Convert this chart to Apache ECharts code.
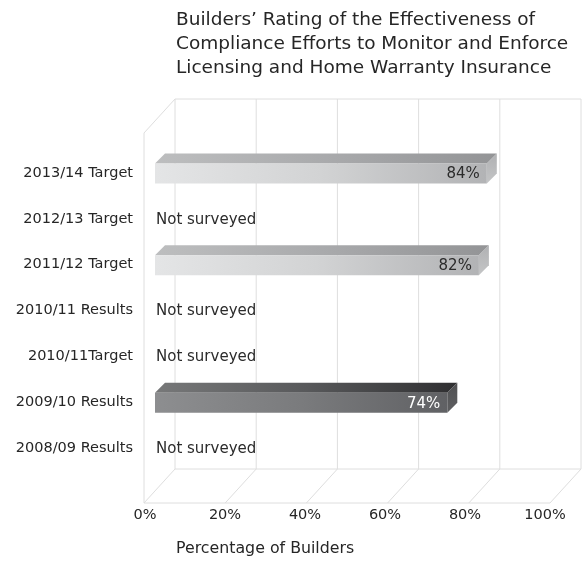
<!DOCTYPE html>
<html>
<head>
<meta charset="utf-8">
<script src="https://cdn.jsdelivr.net/npm/echarts@6/dist/echarts.min.js"></script>
<style>
  html, body { margin: 0; padding: 0; background: #fff; }
  #chart { width: 584px; height: 564px; }
</style>
</head>
<body>
<div id="chart"></div>
<script>
// Survey categories, top to bottom
const categories = [
  '2013/14 Target',
  '2012/13 Target',
  '2011/12 Target',
  '2010/11 Results',
  '2010/11Target',
  '2009/10 Results',
  '2008/09 Results'
];
// Percentage of builders rating the compliance effort as effective (null = not surveyed)
const ratings = [84, null, 82, null, null, 74, null];
const notSurveyedText = 'Not surveyed';

// Percentage axis ticks
const xTicks = [0, 20, 40, 60, 80, 100];
const tickLabels = ['0%', '20%', '40%', '60%', '80%', '100%'];

const titleText = 'Builders\u2019 Rating of the Effectiveness of\nCompliance Efforts to Monitor and Enforce\nLicensing and Home Warranty Insurance';
const axisTitle = 'Percentage of Builders';

const FONT = 'DejaVu Sans';
const GRID_LINE = { stroke: '#dedede', lineWidth: 1 };
// oblique depth of the floor / back wall
const DX = 31, DY = -34;
// oblique depth of each bar
const BDX = 10, BDY = -10, BAR_H = 20;

function line(a, b) {
  return { type: 'line', shape: { x1: a[0], y1: a[1], x2: b[0], y2: b[1] }, style: GRID_LINE, silent: true };
}
function lin(stops, horizontal) {
  return {
    type: 'linear', x: 0, y: 0, x2: horizontal ? 1 : 0, y2: horizontal ? 0 : 1,
    colorStops: stops.map((c, k) => ({ offset: k / (stops.length - 1), color: c }))
  };
}

// floor, left wall and back wall with their vertical grid lines
function renderFrame(params, api) {
  const v = api.value(0);
  const f = api.coord([v, 0]);
  const t = api.coord([v, 1]);
  const back = [f[0] + DX, f[1] + DY];
  const backTop = [t[0] + DX, t[1] + DY];
  const children = [line(f, back), line(back, backTop)];
  if (params.dataIndex === 0) {
    const f0 = api.coord([xTicks[0], 0]);
    const f1 = api.coord([xTicks[xTicks.length - 1], 0]);
    const t0 = api.coord([xTicks[0], 1]);
    const t1 = api.coord([xTicks[xTicks.length - 1], 1]);
    children.push(line(f0, f1));
    children.push(line([f0[0] + DX, f0[1] + DY], [f1[0] + DX, f1[1] + DY]));
    children.push(line(f0, t0));
    children.push(line(t0, [t0[0] + DX, t0[1] + DY]));
    children.push(line([t0[0] + DX, t0[1] + DY], [t1[0] + DX, t1[1] + DY]));
  }
  return { type: 'group', children: children };
}

// pseudo-3D bars, or a note where the year was not surveyed
function renderBar(params, api) {
  const i = params.dataIndex;
  const v = ratings[i];
  const s = api.coord([0, i]);
  if (v == null) {
    return {
      type: 'text',
      style: { x: s[0] + 1, y: s[1] + 1, text: notSurveyedText, fill: '#2b2b2b',
        font: '15px "' + FONT + '"', align: 'left', verticalAlign: 'middle' }
    };
  }
  const e = api.coord([v, i]);
  const dark = categories[i].indexOf('Results') >= 0;
  const x0 = s[0], x1 = e[0];
  const y0 = s[1] - BAR_H / 2 + 0.5, y1 = y0 + BAR_H;
  const front = dark ? lin(['#8d8e90', '#7a7b7d', '#606164'], true)
                     : lin(['#e4e5e6', '#d2d3d4', '#b2b3b5'], true);
  const top = dark ? lin(['#777879', '#58595b', '#2f2f31'], true)
                   : lin(['#bdbebf', '#a9aaac', '#939496'], true);
  const side = dark ? lin(['#505052', '#5f6062'], false) : lin(['#b0b1b3', '#c4c5c6'], false);
  return {
    type: 'group',
    children: [
      { type: 'polygon', shape: { points: [[x0, y0], [x0 + BDX, y0 + BDY], [x1 + BDX, y0 + BDY], [x1, y0]] }, style: { fill: top } },
      { type: 'polygon', shape: { points: [[x1, y0], [x1 + BDX, y0 + BDY], [x1 + BDX, y1 + BDY], [x1, y1]] }, style: { fill: side } },
      { type: 'rect', shape: { x: x0, y: y0, width: x1 - x0, height: BAR_H }, style: { fill: front } },
      { type: 'text', style: { x: x1 - 7, y: (y0 + y1) / 2 + 1, text: v + '%',
          fill: dark ? '#ffffff' : '#2b2b2b', font: '15px "' + FONT + '"', align: 'right', verticalAlign: 'middle' } }
    ]
  };
}

const chart = echarts.init(document.getElementById('chart'), null, { renderer: 'canvas' });
chart.setOption({
  animation: false,
  backgroundColor: '#ffffff',
  title: [
    { text: titleText, left: 176, top: 8, padding: 0,
      textStyle: { fontFamily: FONT, fontSize: 18.5, fontWeight: 'normal', color: '#262626', lineHeight: 24 } },
    { text: axisTitle, left: 176, top: 539, padding: 0,
      textStyle: { fontFamily: FONT, fontSize: 15.8, fontWeight: 'normal', color: '#262626', lineHeight: 20 } }
  ],
  grid: [
    { left: 144, right: 34, top: 133, bottom: 61 },   // floor / walls
    { left: 155, right: 34, top: 150, bottom: 93 },   // bars
    { left: 145, right: 39, top: 133, bottom: 61 }    // percentage labels
  ],
  xAxis: [
    { gridIndex: 0, type: 'value', min: 0, max: 100, interval: 20, show: false },
    { gridIndex: 1, type: 'value', min: 0, max: 100, interval: 20, show: false },
    { gridIndex: 2, type: 'value', min: 0, max: 100, interval: 20,
      axisLine: { show: false }, axisTick: { show: false }, splitLine: { show: false },
      axisLabel: { margin: 5, fontFamily: FONT, fontSize: 14.5, color: '#262626',
        formatter: v => tickLabels[xTicks.indexOf(v)] } }
  ],
  yAxis: [
    { gridIndex: 0, type: 'value', min: 0, max: 1, show: false },
    { gridIndex: 1, type: 'category', data: categories, inverse: true,
      axisLine: { show: false }, axisTick: { show: false }, splitLine: { show: false },
      axisLabel: { margin: 22, fontFamily: FONT, fontSize: 14.5, color: '#262626' } },
    { gridIndex: 2, type: 'value', min: 0, max: 1, show: false }
  ],
  series: [
    { type: 'custom', name: 'frame', xAxisIndex: 0, yAxisIndex: 0, clip: false, z: 1,
      renderItem: renderFrame, data: xTicks.map(v => [v, 0]) },
    { type: 'custom', name: 'rating', xAxisIndex: 1, yAxisIndex: 1, clip: false, z: 5,
      renderItem: renderBar, data: categories.map((c, i) => [ratings[i] == null ? 0 : ratings[i], i]) }
  ]
});
</script>
</body>
</html>
